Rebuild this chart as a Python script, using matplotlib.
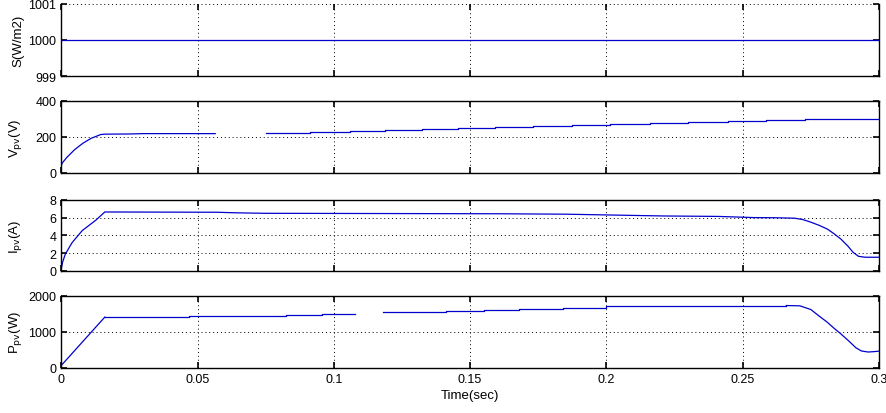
import numpy as np
import matplotlib
matplotlib.use("Agg")
import matplotlib.pyplot as plt

plt.rcParams['font.family'] = ['Liberation Sans', 'DejaVu Sans']

t_max = 0.3
xticks = [0, 0.05, 0.1, 0.15, 0.2, 0.25, 0.3]
xticklabels = ['0', '0.05', '0.1', '0.15', '0.2', '0.25', '0.3']

# irradiance
s_t = [0, 0.3]
s_val = [1000, 1000]

# Vpv: start-up curve, then flat, gap, then staircase
v_rise_t = [0, 0, 0.0004, 0.002, 0.005, 0.008, 0.011, 0.0145, 0.016, 0.025, 0.03, 0.0565]
v_rise_v = [0, 40, 55, 85, 130, 165, 192, 213, 215, 216, 218, 218]
v_step_t = [0.0753, 0.0911, 0.1058, 0.1186, 0.1322, 0.1454, 0.1590, 0.1730,
            0.1873, 0.2012, 0.2159, 0.2299, 0.2446, 0.2585, 0.2729, 0.3]
v_step_v = [223, 229, 234, 239, 245, 250, 255, 261,
            266, 271, 277, 282, 287, 293, 299, 299]

# Ipv
i_t = [0, 0, 0.0005, 0.0015, 0.004, 0.0077, 0.0126, 0.0160, 0.057, 0.065, 0.075,
       0.16, 0.185, 0.221, 0.241, 0.254, 0.262, 0.269, 0.272, 0.275, 0.278,
       0.281, 0.2835, 0.286, 0.2886, 0.2905, 0.2925, 0.295, 0.3]
i_v = [0, 0.2, 0.98, 1.9, 3.2, 4.55, 5.7, 6.65, 6.62, 6.55, 6.5,
       6.45, 6.4, 6.2, 6.15, 6.02, 6.0, 5.95, 5.8, 5.5, 5.15,
       4.73, 4.2, 3.6, 2.8, 2.1, 1.65, 1.55, 1.55]

# Ppv
p_rise_t = [0, 0.0160]
p_rise_v = [65, 1410]
p_step_t = [0.0160, 0.047, 0.068, 0.0826, 0.0955, 0.1076]
p_step_v = [1410, 1430, 1450, 1472, 1500, 1500]
p_step2_t = [0.118, 0.129, 0.141, 0.155, 0.168, 0.184, 0.200, 0.203, 0.236, 0.266]
p_step2_v = [1547, 1564, 1592, 1619, 1647, 1675, 1710, 1722, 1731, 1731]
p_fall_t = [0.266, 0.271, 0.275, 0.278, 0.281, 0.2835, 0.286, 0.289, 0.2915,
            0.2935, 0.296, 0.298, 0.3]
p_fall_v = [1731, 1722, 1620, 1440, 1269, 1100, 944, 740, 560,
            470, 440, 450, 465]

blue = '#0000cc'
lw = 0.9
fig = plt.figure(figsize=(8.87, 4.14), dpi=100)

left, width = 0.069, 0.922
boxes = [(0.814, 0.174), (0.580, 0.174), (0.343, 0.1715), (0.109, 0.174)]
axes = [fig.add_axes([left, b, width, h]) for b, h in boxes]

for ax in axes:
    ax.set_xlim(0, t_max)
    ax.set_xticks(xticks)
    ax.grid(True, color='k', linestyle=(0, (1, 3)), linewidth=0.7)
    ax.tick_params(direction='in', top=True, right=True, length=4, width=1.2,
                   labelsize=9)
    for sp in ax.spines.values():
        sp.set_linewidth(1.0)
    if ax is not axes[-1]:
        ax.set_xticklabels([])

# S
ax = axes[0]
ax.plot(s_t, s_val, color=blue, lw=lw)
ax.set_ylim(999, 1001)
ax.set_yticks([999, 1000, 1001])
ax.spines['top'].set_visible(False)
ax.set_ylabel('S(W/m2)', fontsize=9.5)

# V
ax = axes[1]
ax.plot(v_rise_t, v_rise_v, color=blue, lw=lw)
ax.step(v_step_t, v_step_v, where='post', color=blue, lw=lw)
ax.set_ylim(0, 400)
ax.set_yticks([0, 200, 400])
ax.set_ylabel('V$_{\\mathrm{pv}}$(V)', fontsize=9.5)

# I
ax = axes[2]
ax.plot(i_t, i_v, color=blue, lw=lw)
ax.set_ylim(0, 8)
ax.set_yticks([0, 2, 4, 6, 8])
ax.set_ylabel('I$_{\\mathrm{pv}}$(A)', fontsize=9.5)

# P
ax = axes[3]
ax.plot(p_rise_t, p_rise_v, color=blue, lw=lw)
ax.step(p_step_t, p_step_v, where='post', color=blue, lw=lw)
ax.step(p_step2_t, p_step2_v, where='post', color=blue, lw=lw)
ax.plot(p_fall_t, p_fall_v, color=blue, lw=lw)
ax.set_ylim(0, 2000)
ax.set_yticks([0, 1000, 2000])
ax.set_xticklabels(xticklabels)
ax.set_ylabel('P$_{\\mathrm{pv}}$(W)', fontsize=9.5)
ax.set_xlabel('Time(sec)', fontsize=9.5, labelpad=3)

for ax in axes:
    ax.yaxis.set_label_coords(-0.045, 0.5)

fig.savefig('out.png', dpi=100)
